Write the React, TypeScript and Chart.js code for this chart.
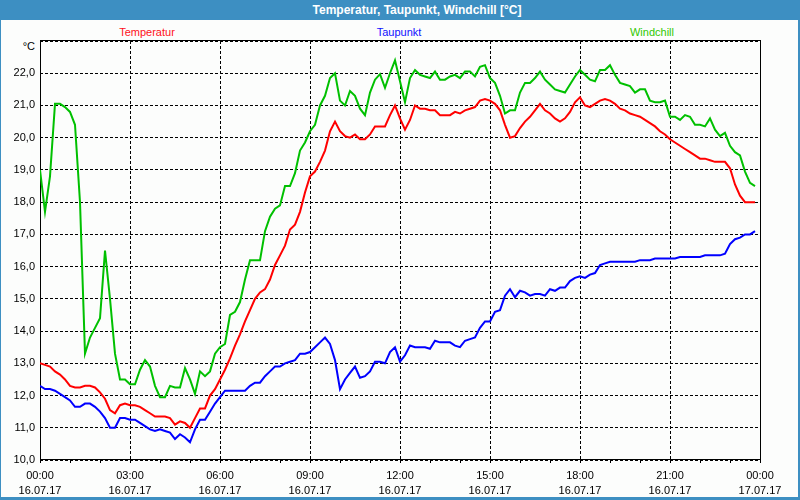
import React, { useEffect, useRef } from "react";
import { Chart, registerables } from "chart.js";

Chart.register(...registerables);

const TITLE = "Temperatur, Taupunkt, Windchill [°C]";
const UNIT = "°C";
const SERIES_NAMES = ["Temperatur", "Taupunkt", "Windchill"];
const SERIES_COLORS = ["#ff0000", "#0000ff", "#00c000"];
const LEGEND_TEXT_COLORS = ["#ff1020", "#1010ff", "#30c800"];

// one reading every 10 minutes, starting 16.07.17 00:00
const STEP_MINUTES = 10;

const temperatur = [
  13.0, 12.95, 12.9, 12.75, 12.65, 12.5, 12.3, 12.25, 12.25, 12.3,
  12.3, 12.25, 12.1, 11.9, 11.55, 11.45, 11.7, 11.75, 11.7, 11.7,
  11.65, 11.55, 11.45, 11.35, 11.35, 11.35, 11.3, 11.1, 11.2, 11.15,
  11.0, 11.3, 11.6, 11.6, 12.0, 12.2, 12.5, 12.8, 13.15, 13.55,
  13.9, 14.3, 14.65, 15.0, 15.2, 15.3, 15.6, 16.05, 16.35, 16.65,
  17.15, 17.3, 17.7, 18.3, 18.8, 18.95, 19.25, 19.6, 20.2, 20.5,
  20.2, 20.05, 20.0, 20.1, 19.95, 19.95, 20.1, 20.35, 20.35, 20.35,
  20.7, 21.0, 20.6, 20.25, 20.55, 21.0, 20.9, 20.9, 20.85, 20.85,
  20.7, 20.7, 20.7, 20.8, 20.75, 20.85, 20.9, 20.95, 21.15, 21.2,
  21.15, 21.05, 20.85, 20.4, 20.0, 20.05, 20.3, 20.5, 20.65, 20.85,
  21.05, 20.85, 20.75, 20.6, 20.5, 20.6, 20.8, 21.1, 21.25, 21.0,
  20.95, 21.05, 21.15, 21.2, 21.15, 21.05, 20.9, 20.85, 20.75, 20.7,
  20.65, 20.55, 20.45, 20.35, 20.2, 20.1, 19.95, 19.85, 19.75, 19.65,
  19.55, 19.45, 19.35, 19.35, 19.3, 19.25, 19.25, 19.25, 19.05, 18.55,
  18.2, 18.0, 18.0, 18.0,
];

const taupunkt = [
  12.3, 12.2, 12.2, 12.15, 12.05, 11.95, 11.85, 11.65, 11.65, 11.75,
  11.75, 11.65, 11.5, 11.3, 11.0, 11.0, 11.3, 11.3, 11.25, 11.25,
  11.15, 11.05, 10.95, 10.9, 10.95, 10.9, 10.85, 10.65, 10.8, 10.7,
  10.55, 10.95, 11.25, 11.25, 11.5, 11.75, 11.95, 12.15, 12.15, 12.15,
  12.15, 12.15, 12.3, 12.4, 12.4, 12.6, 12.75, 12.9, 12.9, 13.0,
  13.05, 13.1, 13.3, 13.3, 13.35, 13.5, 13.65, 13.8, 13.6, 13.1,
  12.2, 12.5, 12.7, 12.9, 12.55, 12.6, 12.75, 13.05, 13.05, 13.0,
  13.35, 13.5, 13.05, 13.25, 13.55, 13.5, 13.5, 13.5, 13.45, 13.7,
  13.65, 13.65, 13.65, 13.55, 13.5, 13.7, 13.75, 13.8, 14.1, 14.3,
  14.3, 14.6, 14.65, 15.1, 15.3, 15.05, 15.25, 15.2, 15.1, 15.15,
  15.15, 15.1, 15.3, 15.25, 15.35, 15.35, 15.55, 15.65, 15.7, 15.65,
  15.75, 15.8, 16.05, 16.1, 16.15, 16.15, 16.15, 16.15, 16.15, 16.15,
  16.2, 16.2, 16.2, 16.25, 16.25, 16.25, 16.25, 16.25, 16.3, 16.3,
  16.3, 16.3, 16.3, 16.35, 16.35, 16.35, 16.35, 16.4, 16.7, 16.85,
  16.9, 17.0, 17.0, 17.1,
];

const windchill = [
  19.0, 17.7, 18.8, 21.05, 21.05, 20.95, 20.8, 20.4, 18.0, 13.3,
  13.8, 14.1, 14.4, 16.5, 15.0, 13.3, 12.5, 12.5, 12.35, 12.35,
  12.8, 13.1, 12.9, 12.3, 11.95, 11.95, 12.3, 12.25, 12.25, 12.85,
  12.5, 12.05, 12.75, 12.6, 12.75, 13.3, 13.5, 13.6, 14.5, 14.6,
  14.9, 15.6, 16.2, 16.2, 16.2, 17.1, 17.55, 17.8, 17.9, 18.5,
  18.5, 18.9, 19.6, 19.85, 20.2, 20.4, 21.0, 21.3, 21.85, 22.0,
  21.15, 21.0, 21.45, 21.3, 20.9, 20.7, 21.4, 21.8, 21.97, 21.55,
  22.0, 22.4, 21.75, 21.1, 21.85, 22.1, 21.95, 21.9, 21.85, 22.05,
  21.8, 21.8, 21.9, 21.95, 21.85, 22.05, 22.05, 21.9, 22.2, 22.25,
  21.85, 21.7, 21.3, 20.75, 20.85, 20.85, 21.4, 21.7, 21.7, 21.85,
  22.05, 21.8, 21.65, 21.5, 21.45, 21.4, 21.65, 21.9, 22.1, 21.95,
  21.8, 21.75, 22.1, 22.1, 22.25, 21.95, 21.7, 21.65, 21.6, 21.4,
  21.5, 21.5, 21.15, 21.1, 21.1, 21.15, 20.65, 20.65, 20.55, 20.7,
  20.65, 20.4, 20.4, 20.35, 20.6, 20.25, 20.05, 20.15, 19.75, 19.55,
  19.45, 18.95, 18.6, 18.5,
];

// x axis: hours since 16.07.17 00:00
const X_MIN = 0;
const X_MAX = 24;
const X_LABEL_HOURS = [0, 3, 6, 9, 12, 15, 18, 21, 24];
const X_TIME_LABELS = ["00:00", "03:00", "06:00", "09:00", "12:00", "15:00", "18:00", "21:00", "00:00"];
const X_DATE_LABELS = ["16.07.17", "16.07.17", "16.07.17", "16.07.17", "16.07.17", "16.07.17", "16.07.17", "16.07.17", "17.07.17"];

const Y_MIN = 10;
const Y_MAX = 23;

const FONT = "'Liberation Sans', Arial, sans-serif";

function toPoints(values: number[]) {
  return values.map((v, i) => ({ x: (i * STEP_MINUTES) / 60, y: v }));
}

const frameBorderPlugin = {
  id: "frameBorder",
  beforeDatasetsDraw(chart: any) {
    const { ctx, chartArea } = chart;
    ctx.save();
    ctx.strokeStyle = "#000";
    ctx.lineWidth = 1;
    ctx.setLineDash([]);
    const l = Math.round(chartArea.left);
    const r = Math.round(chartArea.right);
    const t = Math.round(chartArea.top) - 1;
    const b = Math.round(chartArea.bottom) - 1;
    ctx.strokeRect(l + 0.5, t + 0.5, r - l, b - t);
    ctx.restore();
  },
};

function TemperatureChart() {
  const ref = useRef<HTMLCanvasElement | null>(null);

  useEffect(() => {
    if (!ref.current) return;
    const series = [temperatur, taupunkt, windchill];
    const chart = new Chart(ref.current, {
      type: "line",
      data: {
        datasets: series.map((vals, i) => ({
          label: SERIES_NAMES[i],
          data: toPoints(vals),
          borderColor: SERIES_COLORS[i],
          backgroundColor: SERIES_COLORS[i],
          borderWidth: 2,
          pointRadius: 0,
          tension: 0,
          fill: false,
        })),
      },
      options: {
        animation: false,
        responsive: false,
        devicePixelRatio: 1,
        events: [],
        layout: { padding: { left: 0, right: 40, top: 41, bottom: 0 } },
        plugins: {
          legend: { display: false },
          title: { display: false },
          tooltip: { enabled: false },
        },
        scales: {
          x: {
            type: "linear",
            min: X_MIN,
            max: X_MAX,
            afterFit: (scale: any) => {
              scale.height = 40;
            },
            afterBuildTicks: (scale: any) => {
              const ticks = [];
              for (let h = X_MIN; h <= X_MAX; h++) ticks.push({ value: h });
              scale.ticks = ticks;
            },
            border: { display: false, dash: [3, 2] },
            grid: {
              color: (c: any) => (X_LABEL_HOURS.includes(c.tick?.value) ? "#000" : "rgba(0,0,0,0)"),
              tickColor: "#000",
              tickLength: 3,
              lineWidth: 1,
              drawTicks: true,
            },
            ticks: {
              autoSkip: false,
              maxRotation: 0,
              minRotation: 0,
              padding: 5,
              color: "#000",
              font: { family: FONT, size: 11, lineHeight: "15px" as any },
              callback: (v: any) => {
                const idx = X_LABEL_HOURS.indexOf(Number(v));
                return idx >= 0 ? [X_TIME_LABELS[idx], X_DATE_LABELS[idx]] : "";
              },
            },
          },
          y: {
            type: "linear",
            min: Y_MIN,
            max: Y_MAX,
            afterFit: (scale: any) => {
              scale.width = 40;
            },
            border: { display: false, dash: [3, 2] },
            grid: {
              color: "#000",
              lineWidth: 1,
              drawTicks: false,
            },
            ticks: {
              stepSize: 1,
              padding: 5,
              color: "#000",
              font: { family: FONT, size: 11 },
              callback: (v: any) => (Number(v) >= Y_MAX ? "" : Number(v).toFixed(1).replace(".", ",")),
            },
          },
        },
      },
      plugins: [frameBorderPlugin],
    } as any);
    return () => chart.destroy();
  }, []);

  return <canvas ref={ref} width={800} height={500} style={{ position: "absolute", left: 0, top: 0, width: 800, height: 500 }} />;
}

const LEGEND_X = [147, 399, 652];

export default function App() {
  return (
    <div
      style={{
        position: "fixed",
        left: 0,
        top: 0,
        width: 800,
        height: 500,
        background: "#3d8fc2",
        overflow: "hidden",
        fontFamily: FONT,
      }}
    >
      <div
        style={{
          position: "absolute",
          left: 1,
          top: 20,
          width: 797,
          height: 477,
          background: "#fcfdfc",
        }}
      />
      <div
        style={{
          position: "absolute",
          left: 317,
          top: 0,
          width: 200,
          height: 20,
          lineHeight: "20px",
          textAlign: "center",
          color: "#ffffff",
          fontWeight: "bold",
          fontSize: 12,
          whiteSpace: "nowrap",
          display: "flex",
          justifyContent: "center",
        }}
      >
        {TITLE}
      </div>
      {SERIES_NAMES.map((name, i) => (
        <div
          key={name}
          style={{
            position: "absolute",
            left: LEGEND_X[i] - 60,
            top: 24,
            width: 120,
            height: 16,
            lineHeight: "16px",
            textAlign: "center",
            fontSize: 11,
            color: LEGEND_TEXT_COLORS[i],
            whiteSpace: "nowrap",
          }}
        >
          {name}
        </div>
      ))}
      <div
        style={{
          position: "absolute",
          left: 0,
          top: 38,
          width: 35,
          height: 16,
          lineHeight: "16px",
          textAlign: "right",
          fontSize: 11,
          color: "#000",
        }}
      >
        {UNIT}
      </div>
      <TemperatureChart />
    </div>
  );
}
